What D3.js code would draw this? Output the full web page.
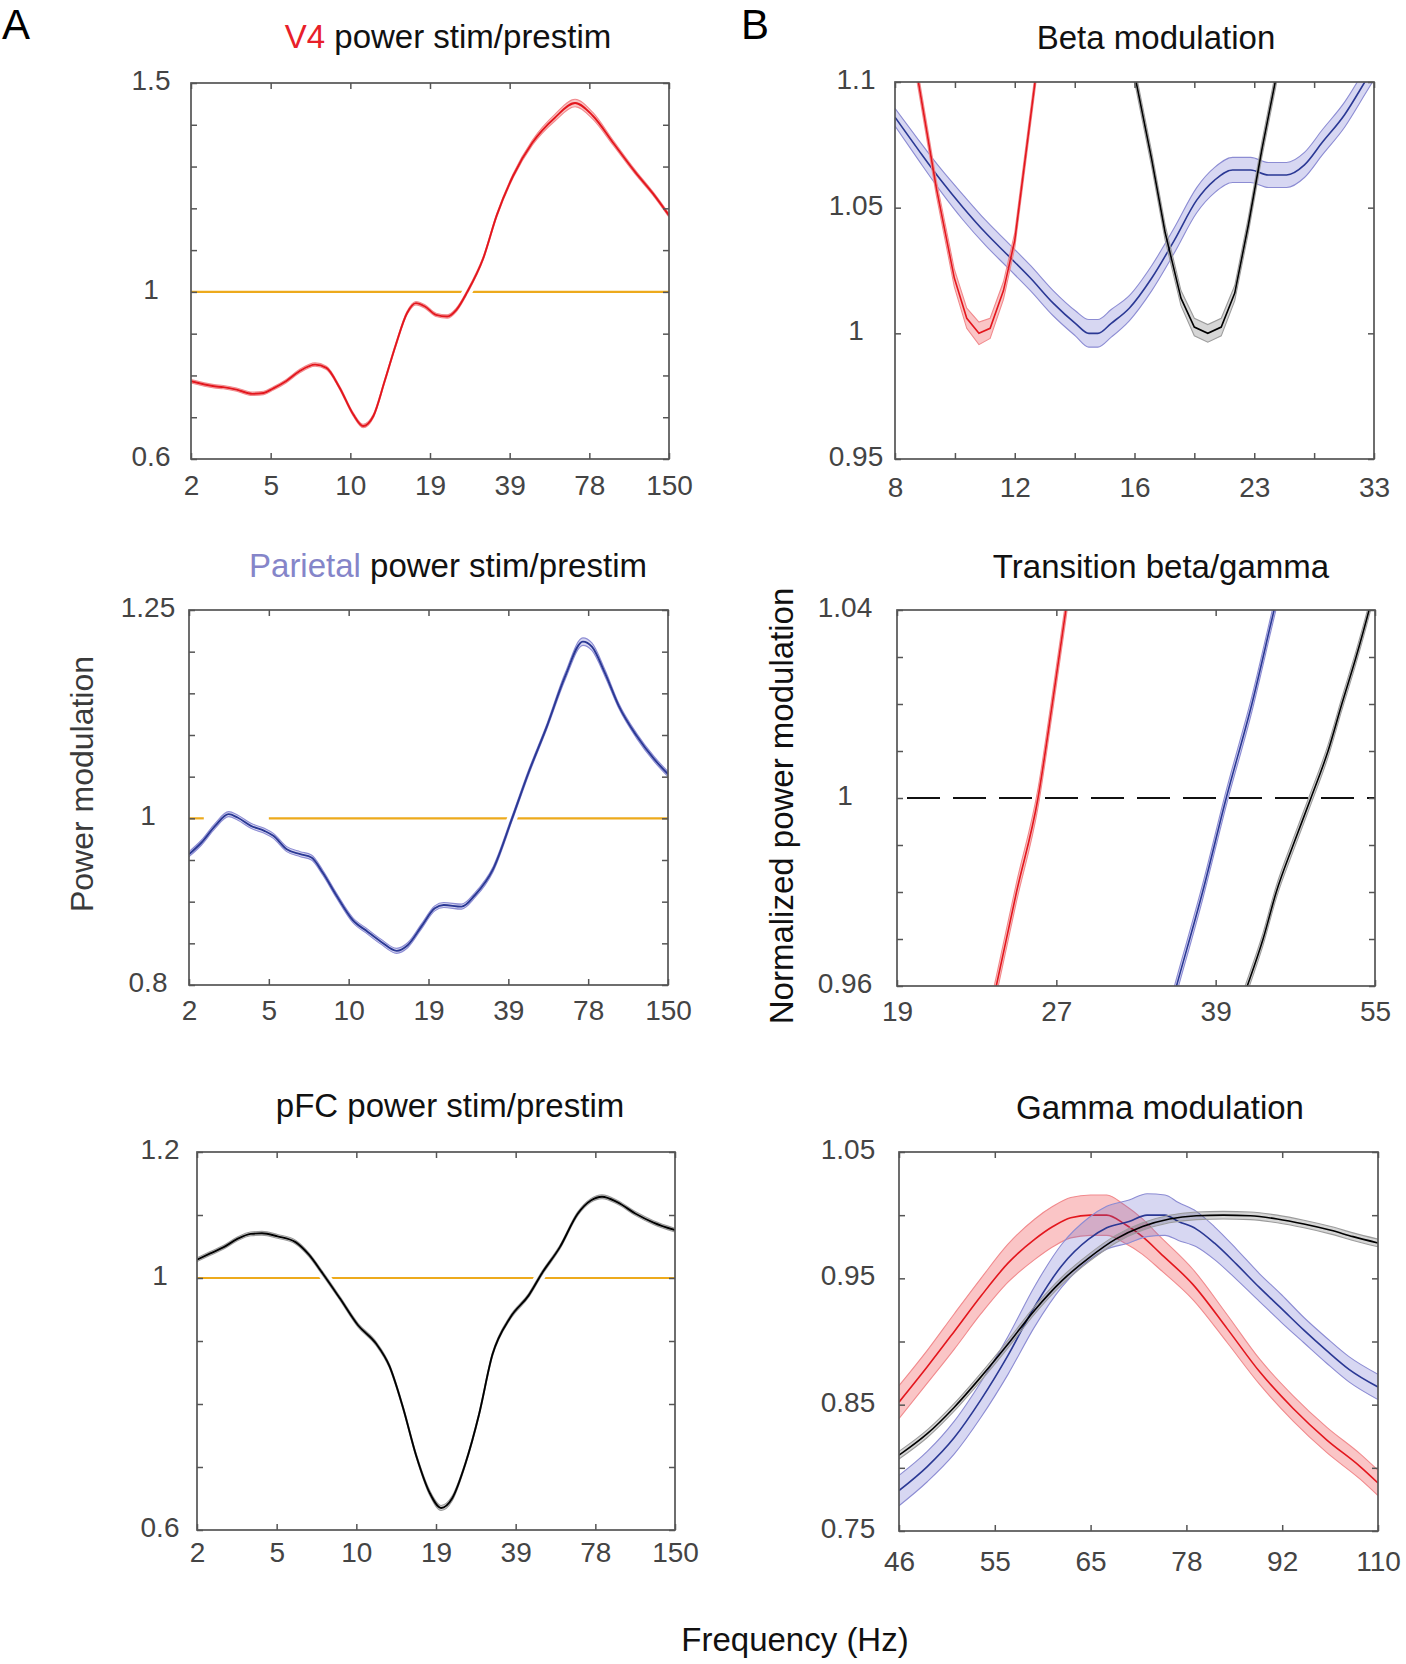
<!DOCTYPE html>
<html><head><meta charset="utf-8">
<script src="https://cdn.jsdelivr.net/npm/d3@7"></script>
<style>html,body{margin:0;padding:0;background:#fff;} svg{display:block;}</style>
</head><body>
<svg id="chart" width="1406" height="1664"></svg>
<script>
// ================= DATA =================
// Column A: x ticks (Hz)
const aXTicks  = [2, 5, 10, 19, 39, 78, 150];
const aXLabels = ["2", "5", "10", "19", "39", "78", "150"];

// A1: V4 power stim/prestim
const v4Freq  = [2, 2.61, 2.9, 3.38, 4.05, 4.61, 5.12, 5.71, 6.42, 7.36, 8.12, 9.12, 10.23, 11.08, 12.04, 13.18, 14.42, 15.78, 16.96, 18.24, 20.07, 22.2, 24.1, 26.6, 30.7, 34.7, 40.2, 47.5, 57.8, 68.9, 80.4, 94.8, 113.9, 132, 150];
const v4Power = [0.786, 0.774, 0.772, 0.766, 0.756, 0.758, 0.769, 0.786, 0.810, 0.826, 0.818, 0.770, 0.707, 0.679, 0.703, 0.786, 0.873, 0.949, 0.973, 0.965, 0.945, 0.941, 0.957, 1.0, 1.080, 1.183, 1.278, 1.357, 1.417, 1.452, 1.421, 1.357, 1.286, 1.234, 1.183];
const v4Sem   = [0.004, 0.004, 0.004, 0.004, 0.004, 0.004, 0.004, 0.004, 0.004, 0.004, 0.004, 0.004, 0.004, 0.004, 0.004, 0.004, 0.004, 0.004, 0.004, 0.004, 0.004, 0.004, 0.004, 0.004, 0.004, 0.004, 0.005, 0.006, 0.008, 0.009, 0.008, 0.006, 0.005, 0.004, 0.004];
const a1YTicks  = [0.6, 0.7, 0.8, 0.9, 1, 1.1, 1.2, 1.3, 1.4, 1.5];
const a1YLabels = ["0.6", "", "", "", "1", "", "", "", "", "1.5"];

// A2: Parietal power stim/prestim
const parFreq  = [2, 2.31, 2.70, 3.15, 3.49, 4.07, 4.75, 5.2, 5.84, 6.57, 7.24, 7.98, 8.97, 10.33, 11.64, 12.96, 14.71, 16.1, 17.93, 20.1, 21.8, 25.6, 28.9, 34.0, 40.2, 46.5, 54.6, 63.8, 74.5, 80.4, 89.6, 100.2, 116, 134, 150];
const parPower = [0.957, 0.971, 0.991, 1.005, 1.001, 0.991, 0.985, 0.979, 0.963, 0.957, 0.953, 0.935, 0.908, 0.878, 0.864, 0.852, 0.841, 0.848, 0.870, 0.892, 0.896, 0.894, 0.908, 0.939, 0.999, 1.055, 1.111, 1.170, 1.212, 1.206, 1.174, 1.135, 1.099, 1.071, 1.053];
const parSem   = [0.003, 0.003, 0.003, 0.003, 0.003, 0.003, 0.003, 0.003, 0.003, 0.003, 0.003, 0.003, 0.003, 0.003, 0.003, 0.003, 0.003, 0.003, 0.003, 0.003, 0.003, 0.003, 0.003, 0.003, 0.003, 0.003, 0.003, 0.004, 0.0045, 0.0045, 0.004, 0.003, 0.003, 0.003, 0.003];
const a2YTicks  = [0.8, 0.85, 0.9, 0.95, 1, 1.05, 1.1, 1.15, 1.2, 1.25];
const a2YLabels = ["0.8", "", "", "", "1", "", "", "", "", "1.25"];
// the reference line in the parietal panel is interrupted between these frequencies
const a2RefGap  = [2.37, 5.0];

// A3: pFC power stim/prestim
const pfcFreq  = [2, 2.33, 2.72, 3.18, 3.71, 4.22, 5.04, 5.89, 6.62, 7.44, 8.69, 10.14, 11.72, 13.06, 14.55, 16.2, 18.06, 19.9, 21.97, 24.8, 28.0, 31.6, 37.1, 43.6, 49.1, 57.3, 66.9, 75.0, 82.4, 93.7, 108.6, 125.7, 150];
const pfcPower = [1.029, 1.039, 1.049, 1.062, 1.070, 1.071, 1.066, 1.057, 1.037, 1.008, 0.967, 0.925, 0.896, 0.860, 0.795, 0.718, 0.659, 0.635, 0.650, 0.706, 0.783, 0.878, 0.937, 0.972, 1.008, 1.049, 1.102, 1.123, 1.129, 1.120, 1.102, 1.088, 1.076];
const pfcSem   = [0.003, 0.003, 0.003, 0.003, 0.003, 0.003, 0.003, 0.003, 0.003, 0.003, 0.003, 0.003, 0.003, 0.003, 0.003, 0.003, 0.004, 0.004, 0.004, 0.003, 0.003, 0.003, 0.003, 0.003, 0.003, 0.003, 0.003, 0.003, 0.003, 0.003, 0.003, 0.003, 0.003];
const a3YTicks  = [0.6, 0.7, 0.8, 0.9, 1, 1.1, 1.2];
const a3YLabels = ["0.6", "", "", "", "1", "", "1.2"];

// B1: Beta modulation
const b1XDomain = [8, 12, 16, 23, 33];
const b1XTicks  = [8, 9.8, 12, 13.86, 16, 19.18, 23, 27.55, 33];
const b1XLabels = ["8", "", "12", "", "16", "", "23", "", "33"];
const b1YTicks  = [0.95, 1, 1.05, 1.1];
const b1YLabels = ["0.95", "1", "1.05", "1.1"];
const b1RedFreq   = [8.4, 8.66, 9.2, 9.78, 10.2, 10.63, 11.04, 11.55, 12.0, 12.6, 13.0];
const b1RedVal    = [1.12, 1.1, 1.058, 1.022, 1.006, 1.0, 1.002, 1.017, 1.037, 1.1, 1.142];
const b1RedSem    = [0.003, 0.003, 0.003, 0.0035, 0.004, 0.0045, 0.004, 0.0035, 0.003, 0.003, 0.003];
const b1BlueFreq  = [8, 8.66, 9.34, 10.08, 10.87, 11.73, 12.46, 13.16, 13.88, 14.34, 14.65, 15.13, 15.8, 16.86, 18.05, 19.32, 20.4, 21.54, 22.75, 24.0, 25.35, 26.76, 28.24, 30.2, 32.1, 33];
const b1BlueVal   = [1.086, 1.073, 1.061, 1.050, 1.040, 1.031, 1.022, 1.012, 1.004, 1.0, 1.0, 1.004, 1.010, 1.022, 1.037, 1.053, 1.061, 1.065, 1.065, 1.063, 1.063, 1.067, 1.076, 1.087, 1.1, 1.106];
const b1BlueSem   = [0.0035, 0.004, 0.0045, 0.005, 0.005, 0.005, 0.005, 0.005, 0.005, 0.0055, 0.0055, 0.0055, 0.005, 0.005, 0.005, 0.005, 0.005, 0.005, 0.005, 0.005, 0.005, 0.005, 0.005, 0.005, 0.005, 0.005];
const b1BlackFreq = [15.8, 16.08, 16.86, 17.56, 18.42, 19.18, 19.98, 20.81, 21.68, 22.59, 23.53, 24.5, 25.0];
const b1BlackVal  = [1.111, 1.1, 1.069, 1.040, 1.014, 1.0025, 1.0, 1.0025, 1.016, 1.043, 1.073, 1.1, 1.114];
const b1BlackSem  = [0.003, 0.003, 0.003, 0.003, 0.003, 0.0035, 0.0035, 0.0035, 0.003, 0.003, 0.003, 0.003, 0.003];

// B2: Transition beta/gamma
const b2XTicks  = [19, 27, 39, 55];
const b2XLabels = ["19", "27", "39", "55"];
const b2YTicks  = [0.96, 0.97, 0.98, 0.99, 1, 1.01, 1.02, 1.03, 1.04];
const b2YLabels = ["0.96", "", "", "", "1", "", "", "", "1.04"];
const b2RedFreq   = [23.3, 23.65, 24.73, 25.93, 26.76, 27.6, 28.0];
const b2RedVal    = [0.9535, 0.96, 0.98, 1.0, 1.02, 1.04, 1.0495];
const b2RedSem    = [0.002, 0.002, 0.002, 0.002, 0.002, 0.002, 0.002];
const b2BlueFreq  = [35.0, 35.63, 37.84, 39.9, 42.17, 44.24, 45.0];
const b2BlueVal   = [0.954, 0.96, 0.98, 1.0, 1.02, 1.04, 1.047];
const b2BlueSem   = [0.0016, 0.0016, 0.0016, 0.0016, 0.0016, 0.0016, 0.0016];
const b2BlackFreq = [41.0, 41.75, 43.2, 44.45, 46.1, 47.9, 49.7, 51.2, 52.8, 54.3, 55.0];
const b2BlackVal  = [0.955, 0.96, 0.97, 0.98, 0.99, 1.0, 1.01, 1.02, 1.03, 1.04, 1.045];
const b2BlackSem  = [0.0013, 0.0013, 0.0013, 0.0013, 0.0013, 0.0013, 0.0013, 0.0013, 0.0013, 0.0013, 0.0013];

// B3: Gamma modulation
const b3XTicks  = [46, 55, 65, 78, 92, 110];
const b3XLabels = ["46", "55", "65", "78", "92", "110"];
const b3YTicks  = [0.75, 0.8, 0.85, 0.9, 0.95, 1, 1.05];
const b3YLabels = ["0.75", "", "0.85", "", "0.95", "", "1.05"];
const b3RedFreq   = [46, 48.49, 51.0, 53.6, 56.28, 58.98, 60.86, 62.79, 65, 67.02, 69.34, 71.75, 74.2, 78.9, 83.7, 88.5, 93.9, 100, 106.4, 110];
const b3RedVal    = [0.852, 0.880, 0.908, 0.936, 0.962, 0.981, 0.991, 0.998, 1.0, 1.0, 0.993, 0.983, 0.970, 0.945, 0.910, 0.876, 0.847, 0.822, 0.801, 0.788];
const b3RedSem    = [0.013, 0.013, 0.014, 0.014, 0.015, 0.016, 0.016, 0.016, 0.016, 0.016, 0.015, 0.014, 0.013, 0.012, 0.011, 0.010, 0.010, 0.010, 0.010, 0.010];
const b3BlueFreq  = [46, 48.49, 51.0, 53.6, 56.28, 58.98, 61.81, 64.78, 67.02, 69.94, 72.37, 74.88, 76.83, 79.35, 81.84, 85.06, 88.41, 91.9, 95.8, 99.9, 104.2, 110];
const b3BlueVal   = [0.782, 0.801, 0.824, 0.854, 0.889, 0.928, 0.960, 0.981, 0.990, 0.995, 1.0, 1.0, 0.995, 0.989, 0.978, 0.961, 0.943, 0.926, 0.909, 0.893, 0.878, 0.864];
const b3BlueSem   = [0.012, 0.012, 0.013, 0.014, 0.015, 0.016, 0.017, 0.017, 0.017, 0.017, 0.017, 0.016, 0.015, 0.014, 0.013, 0.012, 0.011, 0.011, 0.010, 0.010, 0.010, 0.010];
const b3BlackFreq = [46, 48.49, 51.0, 53.6, 56.28, 58.98, 61.81, 64.78, 68.17, 71.75, 75.52, 79.35, 83.12, 87.07, 91.2, 95.8, 100.75, 105.0, 110];
const b3BlackVal  = [0.810, 0.827, 0.848, 0.872, 0.898, 0.925, 0.948, 0.966, 0.981, 0.991, 0.997, 0.9995, 1.0, 0.9995, 0.997, 0.993, 0.988, 0.983, 0.978];
const b3BlackSem  = [0.003, 0.003, 0.003, 0.003, 0.003, 0.003, 0.003, 0.003, 0.003, 0.003, 0.003, 0.003, 0.003, 0.003, 0.003, 0.003, 0.003, 0.003, 0.003];

// ================= STYLE / LAYOUT =================
const FONT = "'Liberation Sans', Arial, Helvetica, sans-serif";
const COLORS = {
  red:   {line: "#e3161d", fill: "rgba(238,62,66,0.30)", edge: "#f18a8d"},
  blue:  {line: "#2a3894", fill: "rgba(100,100,205,0.26)", edge: "#8c8cd3"},
  black: {line: "#000000", fill: "rgba(0,0,0,0.16)", edge: "#9c9c9c"}
};

const panels = [
  {key: "a1", x0: 191, y0: 83, w: 478, h: 376, xDomain: aXTicks, xTicks: aXTicks, xLabels: aXLabels,
   yDomain: [0.6, 1.5], yTicks: a1YTicks, yLabels: a1YLabels, yLabOff: 40, xLabOff: 36, halo: true, ref: "orange", refGap: null,
   title: [["V4", "#e8202a"], [" power stim/prestim", "#111"]], titleX: 448, titleY: 48,
   series: [{f: v4Freq, v: v4Power, s: v4Sem, c: "red", smooth: true}]},
  {key: "a2", x0: 189, y0: 610, w: 479, h: 375, xDomain: aXTicks, xTicks: aXTicks, xLabels: aXLabels,
   yDomain: [0.8, 1.25], yTicks: a2YTicks, yLabels: a2YLabels, yLabOff: 41, xLabOff: 35, halo: true, ref: "orange", refGap: a2RefGap,
   title: [["Parietal", "#8585c9"], [" power stim/prestim", "#111"]], titleX: 448, titleY: 577,
   series: [{f: parFreq, v: parPower, s: parSem, c: "blue", smooth: true}]},
  {key: "a3", x0: 197, y0: 1152, w: 478, h: 378, xDomain: aXTicks, xTicks: aXTicks, xLabels: aXLabels,
   yDomain: [0.6, 1.2], yTicks: a3YTicks, yLabels: a3YLabels, yLabOff: 37, xLabOff: 32, halo: true, ref: "orange", refGap: null,
   title: [["pFC power stim/prestim", "#111"]], titleX: 450, titleY: 1117,
   series: [{f: pfcFreq, v: pfcPower, s: pfcSem, c: "black", smooth: true}]},
  {key: "b1", x0: 895, y0: 82, w: 479, h: 377, xDomain: b1XDomain, xTicks: b1XTicks, xLabels: b1XLabels,
   yDomain: [0.95, 1.1], yTicks: b1YTicks, yLabels: b1YLabels, yLabOff: 39, xLabOff: 38, halo: false, ref: null, refGap: null,
   title: [["Beta modulation", "#111"]], titleX: 1156, titleY: 49,
   series: [{f: b1BlueFreq, v: b1BlueVal, s: b1BlueSem, c: "blue", smooth: true},
            {f: b1RedFreq, v: b1RedVal, s: b1RedSem, c: "red", smooth: false},
            {f: b1BlackFreq, v: b1BlackVal, s: b1BlackSem, c: "black", smooth: false}]},
  {key: "b2", x0: 897, y0: 610, w: 478, h: 376, xDomain: b2XTicks, xTicks: b2XTicks, xLabels: b2XLabels,
   yDomain: [0.96, 1.04], yTicks: b2YTicks, yLabels: b2YLabels, yLabOff: 52, xLabOff: 35, halo: false, ref: "dash", refGap: null,
   title: [["Transition beta/gamma", "#111"]], titleX: 1161, titleY: 578,
   series: [{f: b2RedFreq, v: b2RedVal, s: b2RedSem, c: "red", smooth: true},
            {f: b2BlueFreq, v: b2BlueVal, s: b2BlueSem, c: "blue", smooth: true},
            {f: b2BlackFreq, v: b2BlackVal, s: b2BlackSem, c: "black", smooth: true}]},
  {key: "b3", x0: 899, y0: 1152, w: 479, h: 379, xDomain: b3XTicks, xTicks: b3XTicks, xLabels: b3XLabels,
   yDomain: [0.75, 1.05], yTicks: b3YTicks, yLabels: b3YLabels, yLabOff: 51, xLabOff: 40, halo: false, ref: null, refGap: null,
   title: [["Gamma modulation", "#111"]], titleX: 1160, titleY: 1119,
   series: [{f: b3RedFreq, v: b3RedVal, s: b3RedSem, c: "red", smooth: true},
            {f: b3BlueFreq, v: b3BlueVal, s: b3BlueSem, c: "blue", smooth: true},
            {f: b3BlackFreq, v: b3BlackVal, s: b3BlackSem, c: "black", smooth: true}]}
];

// ================= DRAW =================
const svg = d3.select("#chart");
svg.append("rect").attr("width", 1406).attr("height", 1664).attr("fill", "#fff");

const AXIS_COL = "#555555";
const LABEL_COL = "#444444";

panels.forEach(p => {
  const g = svg.append("g").attr("transform", `translate(${p.x0},${p.y0})`);
  const n = p.xDomain.length;
  const x = d3.scaleLog().domain(p.xDomain).range(p.xDomain.map((d, i) => i * p.w / (n - 1)));
  const y = d3.scaleLinear().domain(p.yDomain).range([p.h, 0]);

  const clipId = "clip-" + p.key;
  g.append("clipPath").attr("id", clipId).append("rect").attr("width", p.w).attr("height", p.h);
  const plot = g.append("g").attr("clip-path", `url(#${clipId})`);

  if (p.ref === "orange") {
    const segs = p.refGap ? [[0, x(p.refGap[0])], [x(p.refGap[1]), p.w]] : [[0, p.w]];
    segs.forEach(([a, b]) => {
      plot.append("line").attr("x1", a).attr("x2", b).attr("y1", y(1)).attr("y2", y(1))
        .attr("stroke", "#EDAA1C").attr("stroke-width", 2.2);
    });
  } else if (p.ref === "dash") {
    plot.append("line").attr("x1", 0).attr("x2", p.w).attr("y1", y(1)).attr("y2", y(1))
      .attr("stroke", "#111").attr("stroke-width", 2).attr("stroke-dasharray", "33,13")
      .attr("stroke-dashoffset", -10);
  }

  p.series.forEach(s => {
    const col = COLORS[s.c];
    const curve = s.smooth ? d3.curveMonotoneX : d3.curveLinear;
    const pts = s.f.map((f, i) => ({f: f, v: s.v[i], e: s.s[i]}));
    const mk = acc => d3.line().x(d => x(d.f)).y(d => y(acc(d))).curve(curve);
    if (p.halo) {
      plot.append("path").attr("d", mk(d => d.v)(pts)).attr("fill", "none")
        .attr("stroke", "#fff").attr("stroke-width", 10);
    }
    const area = d3.area().x(d => x(d.f)).y0(d => y(d.v - d.e)).y1(d => y(d.v + d.e)).curve(curve);
    plot.append("path").attr("d", area(pts)).attr("fill", col.fill).attr("stroke", "none");
    plot.append("path").attr("d", mk(d => d.v + d.e)(pts)).attr("fill", "none")
      .attr("stroke", col.edge).attr("stroke-width", 1.1);
    plot.append("path").attr("d", mk(d => d.v - d.e)(pts)).attr("fill", "none")
      .attr("stroke", col.edge).attr("stroke-width", 1.1);
    plot.append("path").attr("d", mk(d => d.v)(pts)).attr("fill", "none")
      .attr("stroke", col.line).attr("stroke-width", p.halo ? 1.9 : 1.6);
  });

  // axes (inward ticks on all four sides)
  const xb = g.append("g").attr("transform", `translate(0,${p.h})`)
    .call(d3.axisBottom(x).tickValues(p.xTicks).tickSize(-6).tickFormat((d, i) => p.xLabels[i]));
  xb.selectAll("text").attr("y", p.xLabOff).attr("dy", null);
  g.append("g").call(d3.axisTop(x).tickValues(p.xTicks).tickSize(-6).tickFormat(""));
  const yl = g.append("g")
    .call(d3.axisLeft(y).tickValues(p.yTicks).tickSize(-6).tickFormat((d, i) => p.yLabels[i]));
  yl.selectAll("text").attr("x", -p.yLabOff).attr("dy", "0.23em").attr("text-anchor", "middle");
  g.append("g").attr("transform", `translate(${p.w},0)`)
    .call(d3.axisRight(y).tickValues(p.yTicks).tickSize(-6).tickFormat(""));
  g.selectAll(".domain").remove();
  g.selectAll(".tick line").attr("stroke", AXIS_COL).attr("stroke-width", 1.5);
  g.selectAll(".tick text").attr("fill", LABEL_COL).attr("font-size", 28).attr("font-family", FONT);

  g.append("rect").attr("width", p.w).attr("height", p.h).attr("fill", "none")
    .attr("stroke", AXIS_COL).attr("stroke-width", 1.7);

  const t = svg.append("text").attr("x", p.titleX).attr("y", p.titleY).attr("text-anchor", "middle")
    .attr("font-size", 33).attr("font-family", FONT);
  p.title.forEach(([txt, c]) => t.append("tspan").attr("fill", c).text(txt));
});

// panel letters and shared axis labels
svg.append("text").attr("x", 2).attr("y", 39).attr("font-size", 42).attr("font-family", FONT).attr("fill", "#000").text("A");
svg.append("text").attr("x", 741).attr("y", 39).attr("font-size", 42).attr("font-family", FONT).attr("fill", "#000").text("B");

svg.append("text").attr("transform", "translate(93,784) rotate(-90)").attr("text-anchor", "middle")
  .attr("font-size", 32).attr("font-family", FONT).attr("fill", "#3a3a3a").text("Power modulation");
svg.append("text").attr("transform", "translate(793,806) rotate(-90)").attr("text-anchor", "middle")
  .attr("font-size", 33).attr("font-family", FONT).attr("fill", "#111").text("Normalized power modulation");
svg.append("text").attr("x", 795).attr("y", 1651).attr("text-anchor", "middle")
  .attr("font-size", 33).attr("font-family", FONT).attr("fill", "#111").text("Frequency (Hz)");
</script>
</body></html>
